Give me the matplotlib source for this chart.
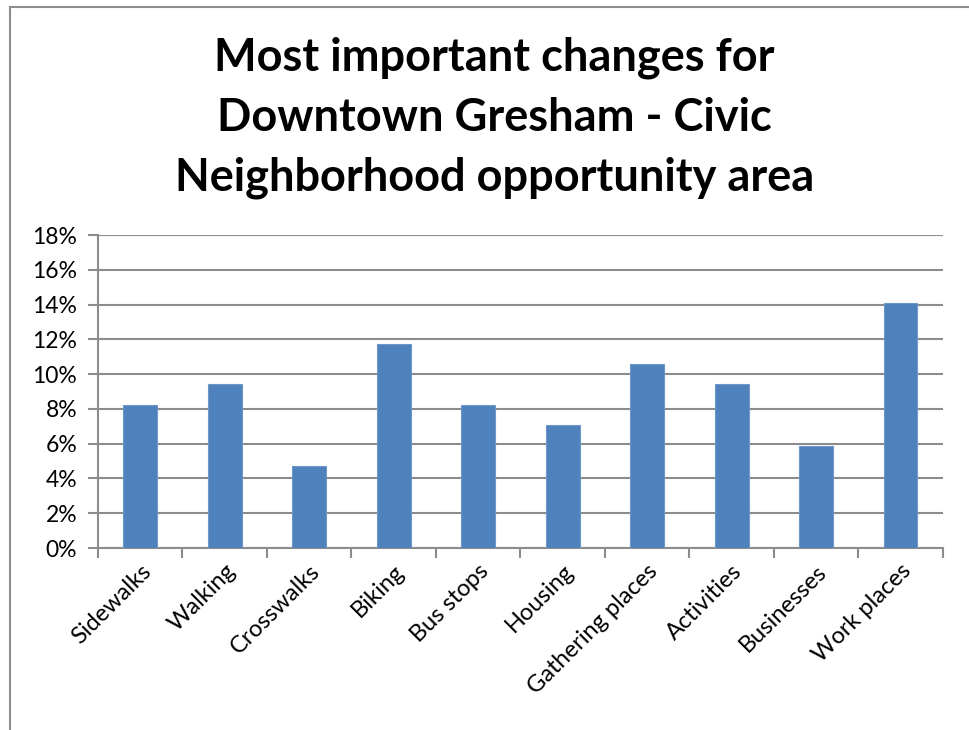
import numpy as np
import matplotlib
matplotlib.use("Agg")
import matplotlib.pyplot as plt
from matplotlib.lines import Line2D
from matplotlib.ticker import PercentFormatter, MultipleLocator

categories = ["Sidewalks", "Walking", "Crosswalks", "Biking", "Bus stops",
              "Housing", "Gathering places", "Activities", "Businesses", "Work places"]
shares = [8.24, 9.41, 4.71, 11.76, 8.24, 7.06, 10.59, 9.41, 5.88, 14.12]

title = "Most important changes for\nDowntown Gresham - Civic\nNeighborhood opportunity area"

plt.rcParams["font.family"] = ["Lato", "DejaVu Sans"]

fig = plt.figure(figsize=(9.7, 7.3), dpi=100)
ax = fig.add_axes([0.101, 0.2493, 0.871, 0.4287])

x = np.arange(len(categories))
ax.bar(x, shares, width=0.4, color="#4F81BD", edgecolor="#6F97C8", linewidth=0.8, zorder=3)

ax.set_xlim(-0.5, len(categories) - 0.5)
ax.set_ylim(0, 18)
ax.yaxis.set_major_locator(MultipleLocator(2))
ax.yaxis.set_major_formatter(PercentFormatter(decimals=0))
ax.grid(axis="y", color="#8C8C8C", linewidth=1.5, zorder=0)

# category ticks sit between the bars
ax.set_xticks(np.arange(-0.5, len(categories), 1.0))
ax.set_xticklabels([])
ax.set_xticks(x, minor=True)
ax.set_xticklabels(categories, minor=True, rotation=45, ha="right",
                   rotation_mode="anchor", fontsize=17)
ax.tick_params(axis="x", which="minor", length=0, pad=9)
ax.tick_params(axis="x", which="major", length=7, width=1.5, color="#8C8C8C")
ax.tick_params(axis="y", length=7, width=1.5, color="#8C8C8C", labelsize=16.5, pad=8)

for side in ["top", "right"]:
    ax.spines[side].set_visible(False)
for side in ["left", "bottom"]:
    ax.spines[side].set_color("#8C8C8C")
    ax.spines[side].set_linewidth(1.5)

fig.text(0.51, 0.839, title, ha="center", va="center", fontsize=32.5,
         fontweight="bold", linespacing=1.52)

# chart area border
y_top = 1 - 7 / 730
x_left = 10 / 970
fig.add_artist(Line2D([x_left, 1], [y_top, y_top], color="#8C8C8C", linewidth=1.5))
fig.add_artist(Line2D([x_left, x_left], [0, y_top], color="#8C8C8C", linewidth=1.5))

fig.savefig("out.png", dpi=100)
